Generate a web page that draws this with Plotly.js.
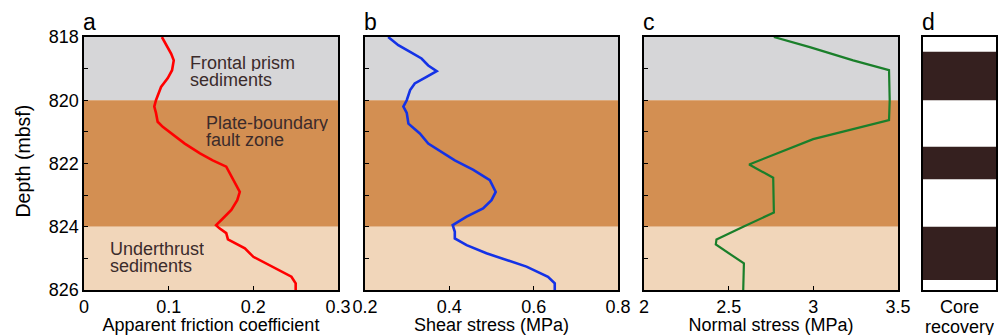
<!DOCTYPE html>
<html><head><meta charset="utf-8">
<script src="https://cdn.plot.ly/plotly-3.0.1.min.js"></script>
<style>html,body{margin:0;padding:0;background:#fff}</style>
</head><body><div id="chart" style="width:1005px;height:335px"></div>
<script>
// Depth-profile data (mbsf)
const frictionDepth = [818.0,818.53,818.74,819.05,819.3,819.58,820.0,820.2,820.4,820.68,820.84,821.05,821.37,821.68,821.9,822.1,822.3,822.58,822.9,823.16,823.47,823.74,823.95,824.05,824.2,824.4,824.68,824.95,825.26,825.58,825.79,826.0];
const friction = [0.092,0.103,0.106,0.104,0.099,0.091,0.085,0.083,0.085,0.087,0.093,0.103,0.119,0.137,0.152,0.168,0.172,0.178,0.184,0.181,0.174,0.164,0.156,0.160,0.168,0.170,0.190,0.200,0.223,0.245,0.250,0.250];
const shearDepth = [818.0,818.26,818.47,818.68,818.9,819.08,819.26,819.47,819.68,820.0,820.2,820.4,820.74,821.05,821.37,821.68,821.9,822.2,822.53,822.9,823.16,823.42,823.68,823.95,824.16,824.37,824.58,824.84,825.05,825.26,825.58,825.79,826.0];
const shear = [0.255,0.279,0.307,0.334,0.350,0.370,0.346,0.318,0.307,0.299,0.291,0.299,0.303,0.330,0.350,0.386,0.413,0.457,0.496,0.510,0.500,0.480,0.441,0.408,0.413,0.413,0.441,0.488,0.536,0.583,0.634,0.650,0.650];
const normalDepth = [818.0,818.32,818.74,819.05,820.0,820.63,821.23,822.03,822.45,823.55,824.0,824.4,824.56,825.16,826.0];
const normal = [2.767,2.979,3.235,3.447,3.451,3.447,2.999,2.621,2.763,2.767,2.586,2.428,2.424,2.590,2.586];
// Core recovery intervals
const coreTop = [818.47,821.47,824.0];
const coreBottom = [820.0,822.5,825.68];
// Lithologic units
const unitTop = [818,820,824];
const unitBottom = [820,824,826];
const unitColors = ['#d6d6d8','#d38f52','#f1d6ba'];
const unitLabelLines = [['Frontal prism','sediments'],['Plate-boundary','fault zone'],['Underthrust','sediments']];
// Axis ticks
const depthTicks = [818,819,820,821,822,823,824,825,826];
const depthTickText = ['818','','820','','822','','824','','826'];
const fricTicks = [0,0.1,0.2,0.3];
const shearTicks = [0.2,0.4,0.6,0.8];
const normalTicks = [2,2.5,3,3.5];
const coreTitleLines = ['Core','recovery'];

(function(){
const FONT = 'Liberation Sans, Arial, sans-serif';
const TXT = '#000';
const FS = 18;
const data = [
  {x: friction, y: frictionDepth, xaxis:'x', yaxis:'y', mode:'lines', line:{color:'#ff0000', width:2.6}, type:'scatter'},
  {x: shear, y: shearDepth, xaxis:'x2', yaxis:'y2', mode:'lines', line:{color:'#1432e6', width:2.6}, type:'scatter'},
  {x: normal, y: normalDepth, xaxis:'x3', yaxis:'y3', mode:'lines', line:{color:'#1a7f2a', width:2.2}, type:'scatter'},
  {x: coreTop.map(()=>0), y: coreTop.map((t,i)=>coreBottom[i]-t), base: coreTop, xaxis:'x4', yaxis:'y4', type:'bar', width:1, marker:{color:'#35201f', line:{width:0}}}
];
const dTop = 1-37/335, dBot = 1-290/335;
function xa(d0,d1,range,ticks,title){
  return {domain:[d0/1005,d1/1005], range:range, tickvals:ticks, ticks:'inside', ticklen:4, tickwidth:1.2, tickcolor:'#000',
    showline:true, mirror:true, linecolor:'#000', linewidth:1.6, showgrid:false, zeroline:false,
    tickfont:{family:FONT,size:FS,color:TXT}, title:{text:title, font:{family:FONT,size:FS,color:TXT}, standoff:4}, fixedrange:true};
}
function ya(anchor,labels){
  return {domain:[dBot,dTop], range:[826,818], anchor:anchor, tickvals:depthTicks, ticktext: labels?depthTickText:depthTickText.map(()=>''),
    ticks:'inside', ticklen:4, tickwidth:1.2, tickcolor:'#000', showline:true, mirror:true, linecolor:'#000', linewidth:1.6,
    showgrid:false, zeroline:false, tickfont:{family:FONT,size:FS,color:TXT}, showticklabels: !!labels};
}
const layout = {
  width:1005, height:335, margin:{l:0,r:0,t:0,b:0}, showlegend:false, paper_bgcolor:'#fff', plot_bgcolor:'rgba(0,0,0,0)',
  barmode:'overlay',
  xaxis: xa(84,338,[0,0.3],fricTicks,'Apparent friction coefficient'),
  xaxis2: Object.assign(xa(365,618,[0.2,0.8],shearTicks,'Shear stress (MPa)'),{anchor:'y2'}),
  xaxis3: Object.assign(xa(644,898,[2,3.5],normalTicks,'Normal stress (MPa)'),{anchor:'y3'}),
  xaxis4: Object.assign(xa(923,996,[-0.5,0.5],[],''),{anchor:'y4', ticks:'', showticklabels:false}),
  yaxis: ya('x',true),
  yaxis2: ya('x2',false),
  yaxis3: ya('x3',false),
  yaxis4: Object.assign(ya('x4',false),{ticks:''}),
  shapes: [],
  annotations: []
};
['x','x2','x3'].forEach(function(xr,p){
  const yr = p===0?'y':'y'+(p+1);
  unitTop.forEach(function(t,i){
    layout.shapes.push({type:'rect', layer:'below', xref:xr+' domain', yref:yr, x0:0, x1:1, y0:t, y1:unitBottom[i], fillcolor:unitColors[i], line:{width:0}});
  });
});
// unit labels (left-aligned, one annotation per line)
const labelX = [0.415,0.475,0.1];
const labelY = [819.05,820.95,824.95];
unitLabelLines.forEach(function(lines,i){
  lines.forEach(function(t,j){
    layout.annotations.push({text:t, xref:'x domain', yref:'y', x:labelX[i], y:labelY[i], yshift:-(j-0.5)*17-1, xanchor:'left', yanchor:'middle', showarrow:false,
      height:16, borderpad:0, font:{family:FONT,size:FS,color:'#3b2b2b'}});
  });
});
// y title
layout.annotations.push({text:'Depth (mbsf)', xref:'paper', yref:'paper', x:22/1005, y:1-161.5/335, textangle:-90, xanchor:'center', yanchor:'middle', showarrow:false,
  font:{family:FONT,size:19.5,color:TXT}});
// core recovery title
coreTitleLines.forEach(function(t,j){
  layout.annotations.push({text:t, xref:'x4 domain', yref:'paper', x:0.5, y:1-(307+j*20)/335, xanchor:'center', yanchor:'middle', showarrow:false,
    height:16, borderpad:0, font:{family:FONT,size:FS,color:TXT}});
});
// panel letters
const letters = ['a','b','c','d'], lx = ['x','x2','x3','x4'];
letters.forEach(function(l,i){
  layout.annotations.push({text:l, xref:lx[i]+' domain', yref:'paper', x:0, y:1-22/335, xanchor:'left', yanchor:'middle', showarrow:false, xshift:-3,
    font:{family:FONT,size:23,color:'#000'}});
});
Plotly.newPlot('chart', data, layout, {displayModeBar:false, staticPlot:true});
})();
</script></body></html>
